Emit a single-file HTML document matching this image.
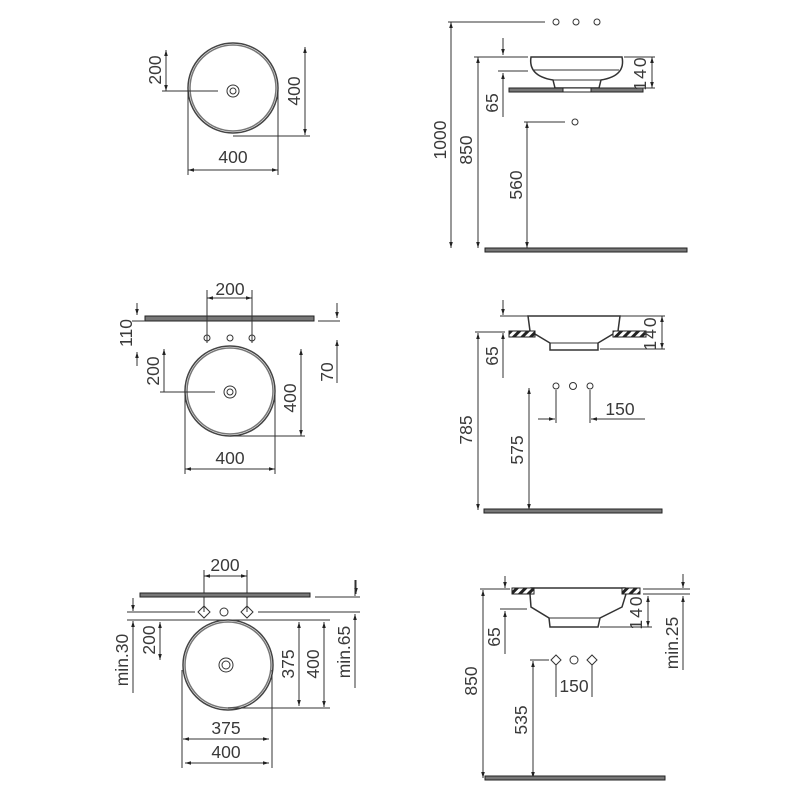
<!DOCTYPE html>
<html><head><meta charset="utf-8"><style>
html,body{margin:0;padding:0;background:#fff}
svg{display:block}
text{font-family:"Liberation Sans",sans-serif;font-size:17.5px;fill:#3a3a3a;text-anchor:middle}
</style></head><body>
<svg width="800" height="800" viewBox="0 0 800 800" xmlns="http://www.w3.org/2000/svg">
<defs>
<marker id="a" viewBox="0 0 10 10" refX="10" refY="5" markerWidth="7" markerHeight="6" orient="auto-start-reverse"><path d="M0,2 L10,5 L0,8 Z" fill="#222"/></marker>
<pattern id="h" width="6" height="6" patternUnits="userSpaceOnUse" patternTransform="rotate(45)"><rect width="6" height="6" fill="#fff"/><rect width="3" height="6" fill="#222"/></pattern>
</defs>
<g stroke="#333" stroke-width="1" fill="none">
<!-- Panel 1 -->
<circle cx="233" cy="88" r="45" stroke="#444" stroke-width="1.5"/><circle cx="233" cy="88" r="43" stroke="#777" stroke-width="1.5"/>
<circle cx="233" cy="91" r="6"/><circle cx="233" cy="91" r="3"/>
<line x1="162" y1="91" x2="218" y2="91"/>
<line x1="166" y1="50" x2="166" y2="91" marker-start="url(#a)" marker-end="url(#a)"/>
<line x1="305" y1="47" x2="305" y2="135" marker-start="url(#a)" marker-end="url(#a)"/>
<line x1="233" y1="136" x2="310" y2="136"/>
<line x1="188" y1="90" x2="188" y2="175"/><line x1="278" y1="90" x2="278" y2="175"/>
<line x1="188" y1="170" x2="278" y2="170" marker-start="url(#a)" marker-end="url(#a)"/>
<!-- Panel 2 -->
<circle cx="556" cy="22" r="3"/><circle cx="576" cy="22" r="3"/><circle cx="597" cy="22" r="3"/>
<line x1="448" y1="22" x2="545" y2="22"/>
<line x1="451" y1="22" x2="451" y2="248" marker-start="url(#a)" marker-end="url(#a)"/>
<line x1="474" y1="57" x2="528" y2="57"/>
<line x1="478" y1="57" x2="478" y2="248" marker-start="url(#a)" marker-end="url(#a)"/>
<line x1="503" y1="38" x2="503" y2="55" marker-end="url(#a)"/>
<path d="M531,57 L622,57 Q626,76 601,80 L599,88 L555,88 L553,80 Q528,76 531,57 Z" stroke-width="1.5"/>
<line x1="534" y1="70" x2="619" y2="70"/>
<line x1="553" y1="80" x2="601" y2="80"/>
<rect x="509" y="88" width="134" height="4" fill="#777" stroke="#222"/>
<rect x="563" y="88" width="28" height="4" fill="#fff" stroke="#222"/>
<line x1="624" y1="57" x2="655" y2="57"/><line x1="636" y1="88" x2="655" y2="88"/>
<line x1="652" y1="57" x2="652" y2="88" marker-start="url(#a)" marker-end="url(#a)"/>
<line x1="498" y1="71" x2="528" y2="71"/>
<line x1="503" y1="73" x2="503" y2="117" marker-start="url(#a)"/>
<circle cx="575" cy="122" r="3"/>
<line x1="524" y1="122" x2="565" y2="122"/>
<line x1="527" y1="122" x2="527" y2="248" marker-start="url(#a)" marker-end="url(#a)"/>
<rect x="485" y="248" width="202" height="4" fill="#777" stroke="#222"/>
<!-- Panel 3 -->
<rect x="145" y="316" width="169" height="5" fill="#777" stroke="#222"/>
<line x1="207" y1="290" x2="207" y2="335"/><line x1="252" y1="290" x2="252" y2="335"/>
<line x1="207" y1="298" x2="252" y2="298" marker-start="url(#a)" marker-end="url(#a)"/>
<circle cx="207" cy="338" r="3"/><circle cx="230" cy="338" r="3"/><circle cx="252" cy="338" r="3"/>
<line x1="207" y1="333" x2="207" y2="343"/><line x1="252" y1="333" x2="252" y2="343"/>
<line x1="137" y1="303" x2="137" y2="315" marker-end="url(#a)"/>
<line x1="137" y1="366" x2="137" y2="352" marker-end="url(#a)"/>
<line x1="132" y1="321" x2="145" y2="321"/>
<line x1="337" y1="303" x2="337" y2="318" marker-end="url(#a)"/>
<line x1="337" y1="383" x2="337" y2="340" marker-end="url(#a)"/>
<line x1="318" y1="321" x2="340" y2="321"/>
<circle cx="230" cy="391" r="45" stroke="#444" stroke-width="1.5"/><circle cx="230" cy="391" r="43" stroke="#777" stroke-width="1.5"/>
<circle cx="230" cy="392" r="6"/><circle cx="230" cy="392" r="3"/>
<line x1="160" y1="392" x2="215" y2="392"/>
<line x1="164" y1="349" x2="164" y2="392" marker-start="url(#a)"/>
<line x1="301" y1="349" x2="301" y2="436" marker-start="url(#a)" marker-end="url(#a)"/>
<line x1="230" y1="436" x2="305" y2="436"/>
<line x1="185" y1="395" x2="185" y2="474"/><line x1="275" y1="395" x2="275" y2="474"/>
<line x1="185" y1="469" x2="275" y2="469" marker-start="url(#a)" marker-end="url(#a)"/>
<!-- Panel 4 -->
<line x1="503" y1="300" x2="503" y2="315" marker-end="url(#a)"/>
<line x1="500" y1="316" x2="528" y2="316"/>
<path d="M528,316 L620,316 L618,331 L598,343 L598,350 L550,350 L550,343 L530,331 Z" stroke-width="1.5"/>
<line x1="550" y1="343" x2="598" y2="343"/>
<rect x="509" y="331" width="26" height="6" fill="url(#h)" stroke="#222"/>
<rect x="613" y="331" width="33" height="6" fill="url(#h)" stroke="#222"/>
<line x1="620" y1="316" x2="665" y2="316"/><line x1="600" y1="349" x2="665" y2="349"/>
<line x1="662" y1="316" x2="662" y2="349" marker-start="url(#a)" marker-end="url(#a)"/>
<line x1="475" y1="332" x2="505" y2="332"/>
<line x1="478" y1="333" x2="478" y2="510" marker-start="url(#a)" marker-end="url(#a)"/>
<line x1="503" y1="333" x2="503" y2="378" marker-start="url(#a)"/>
<circle cx="556" cy="386" r="3"/><circle cx="573" cy="386" r="3.5"/><circle cx="590" cy="386" r="3"/>
<line x1="556" y1="390" x2="556" y2="423"/><line x1="590" y1="390" x2="590" y2="423"/>
<line x1="538" y1="419" x2="555" y2="419" marker-end="url(#a)"/>
<line x1="645" y1="419" x2="591" y2="419" marker-end="url(#a)"/>
<line x1="529" y1="388" x2="529" y2="510" marker-start="url(#a)" marker-end="url(#a)"/>
<rect x="484" y="509" width="178" height="4" fill="#777" stroke="#222"/>
<!-- Panel 5 -->
<line x1="204" y1="570" x2="204" y2="612"/><line x1="247" y1="570" x2="247" y2="612"/>
<line x1="204" y1="576" x2="247" y2="576" marker-start="url(#a)" marker-end="url(#a)"/>
<rect x="140" y="593" width="170" height="4" fill="#777" stroke="#222"/>
<line x1="356" y1="580" x2="356" y2="594" marker-end="url(#a)"/>
<line x1="315" y1="597" x2="360" y2="597"/>
<line x1="127" y1="612" x2="195" y2="612"/><line x1="258" y1="612" x2="360" y2="612"/>
<path d="M198,612 L204,606 L210,612 L204,618 Z"/><path d="M241,612 L247,606 L253,612 L247,618 Z"/>
<circle cx="224" cy="612" r="4"/>
<line x1="127" y1="620" x2="330" y2="620"/>
<circle cx="228" cy="665" r="45" stroke="#444" stroke-width="1.5"/><circle cx="228" cy="665" r="43" stroke="#777" stroke-width="1.5"/>
<circle cx="226" cy="665" r="7"/><circle cx="226" cy="665" r="4"/>
<line x1="133" y1="598" x2="133" y2="611" marker-end="url(#a)"/>
<line x1="133" y1="693" x2="133" y2="621" marker-end="url(#a)"/>
<line x1="160" y1="622" x2="160" y2="660" marker-start="url(#a)" marker-end="url(#a)"/>
<line x1="299" y1="622" x2="299" y2="706" marker-start="url(#a)" marker-end="url(#a)"/>
<line x1="324" y1="622" x2="324" y2="707" marker-start="url(#a)" marker-end="url(#a)"/>
<line x1="228" y1="708" x2="330" y2="708"/>
<line x1="355" y1="580" x2="355" y2="596"/>
<line x1="355" y1="688" x2="355" y2="614" marker-end="url(#a)"/>
<line x1="182" y1="670" x2="182" y2="768"/><line x1="272" y1="670" x2="272" y2="768"/>
<line x1="183" y1="739" x2="269" y2="739" marker-start="url(#a)" marker-end="url(#a)"/>
<line x1="185" y1="763" x2="269" y2="763" marker-start="url(#a)" marker-end="url(#a)"/>
<!-- Panel 6 -->
<path d="M531,588 L625,588 L626,594 L622,607 L600,618 L598,627 L550,627 L549,618 L531,607 L530,594 Z" stroke-width="1.5"/>
<line x1="549" y1="618" x2="600" y2="618"/>
<rect x="512" y="588" width="22" height="6" fill="url(#h)" stroke="#222"/>
<rect x="622" y="588" width="18" height="6" fill="url(#h)" stroke="#222"/>
<line x1="480" y1="589" x2="510" y2="589"/>
<line x1="505" y1="576" x2="505" y2="588" marker-end="url(#a)"/>
<line x1="483" y1="590" x2="483" y2="778" marker-start="url(#a)" marker-end="url(#a)"/>
<line x1="500" y1="609" x2="527" y2="609"/>
<line x1="505" y1="611" x2="505" y2="654" marker-start="url(#a)"/>
<line x1="643" y1="589" x2="690" y2="589"/><line x1="643" y1="594" x2="690" y2="594"/>
<line x1="600" y1="627" x2="652" y2="627"/>
<line x1="648" y1="596" x2="648" y2="627" marker-start="url(#a)" marker-end="url(#a)"/>
<line x1="683" y1="574" x2="683" y2="588" marker-end="url(#a)"/>
<line x1="683" y1="596" x2="683" y2="670" marker-start="url(#a)"/>
<path d="M551,660 L556,655 L561,660 L556,665 Z"/><circle cx="574" cy="660" r="4"/><path d="M587,660 L592,655 L597,660 L592,665 Z"/>
<line x1="556" y1="665" x2="556" y2="697"/><line x1="592" y1="665" x2="592" y2="697"/>
<line x1="530" y1="660" x2="549" y2="660"/>
<line x1="533" y1="661" x2="533" y2="778" marker-start="url(#a)" marker-end="url(#a)"/>
<rect x="485" y="776" width="180" height="4" fill="#777" stroke="#222"/>
</g>
<g>
<text x="233" y="163">400</text>
<text transform="translate(161,70) rotate(-90)">200</text>
<text transform="translate(300,91) rotate(-90)">400</text>
<text transform="translate(446,140) rotate(-90)">1000</text>
<text transform="translate(472,150) rotate(-90)">850</text>
<text transform="translate(498,103) rotate(-90)">65</text>
<text transform="translate(522,185) rotate(-90)">560</text>
<text transform="translate(646,73) rotate(-90)" letter-spacing="2">140</text>
<text x="230" y="295">200</text>
<text transform="translate(132,333) rotate(-90)">110</text>
<text transform="translate(333,372) rotate(-90)">70</text>
<text transform="translate(159,371) rotate(-90)">200</text>
<text transform="translate(296,398) rotate(-90)">400</text>
<text x="230" y="464">400</text>
<text transform="translate(656,333) rotate(-90)" letter-spacing="2">140</text>
<text transform="translate(472,430) rotate(-90)">785</text>
<text transform="translate(498,356) rotate(-90)">65</text>
<text transform="translate(523,450) rotate(-90)">575</text>
<text x="620" y="415">150</text>
<text x="225" y="571">200</text>
<text transform="translate(128,660) rotate(-90)">min.30</text>
<text transform="translate(155,640) rotate(-90)">200</text>
<text transform="translate(294,664) rotate(-90)">375</text>
<text transform="translate(319,664) rotate(-90)">400</text>
<text transform="translate(350,652) rotate(-90)">min.65</text>
<text x="226" y="734">375</text>
<text x="226" y="758">400</text>
<text transform="translate(477,681) rotate(-90)">850</text>
<text transform="translate(500,637) rotate(-90)">65</text>
<text transform="translate(642,612) rotate(-90)" letter-spacing="2">140</text>
<text transform="translate(678,643) rotate(-90)">min.25</text>
<text transform="translate(527,720) rotate(-90)">535</text>
<text x="574" y="692">150</text>
</g>
</svg>
</body></html>
